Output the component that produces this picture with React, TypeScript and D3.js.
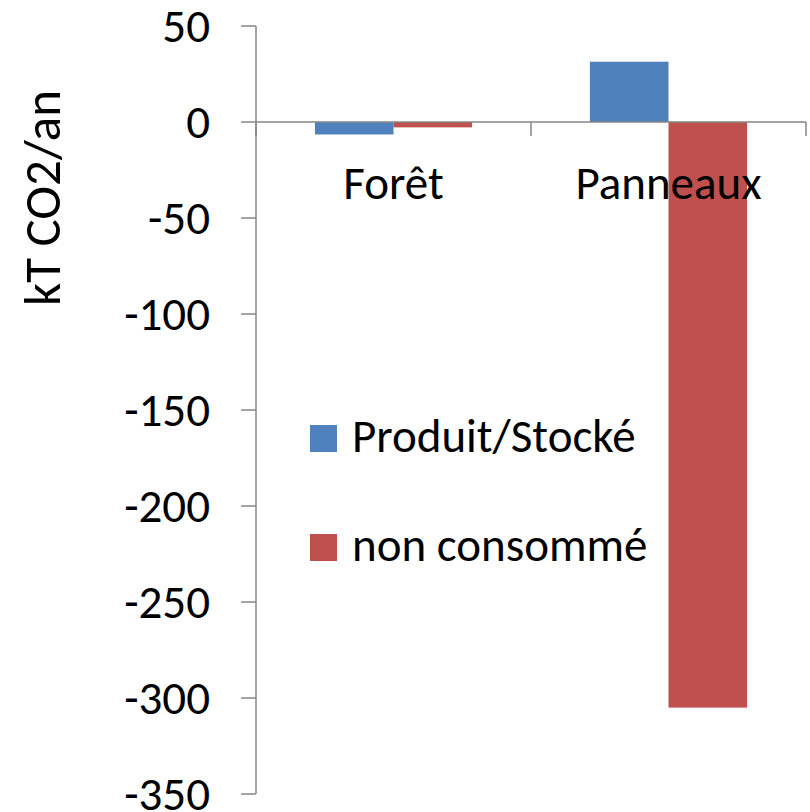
import React from "react";
import * as d3 from "d3";

const categories = ["Forêt", "Panneaux"];
const seriesNames = ["Produit/Stocké", "non consommé"];
const produitStocke = [-6.5, 31.4];
const nonConsomme = [-2.8, -305];
const yTicks = [50, 0, -50, -100, -150, -200, -250, -300, -350];
const colors = ["#4F81BD", "#C0504D"];
const yLabel = "kT CO2/an";

const FONT = "Carlito, Calibri, Lato, sans-serif";

export default function App() {
  const W = 810, H = 812;
  const left = 256, right = 806, top = 26, bottom = 794;
  const y = d3.scaleLinear().domain([-350, 50]).range([bottom, top]);
  const x0 = d3.scaleBand<string>().domain(categories).range([left, right]).padding(0);
  const x1 = d3
    .scaleBand<string>()
    .domain(seriesNames)
    .range([0, x0.bandwidth()])
    .paddingInner(0)
    .paddingOuter(0.75);
  const series = [produitStocke, nonConsomme];
  const axisColor = "#868686";
  const fs = 47;

  return (
    <div style={{ position: "absolute", left: 0, top: 0 }}>
      <svg width={W} height={H} style={{ display: "block", background: "#fff" }}>
        {/* bars */}
        {categories.map((c, ci) =>
          seriesNames.map((s, si) => {
            const v = series[si][ci];
            const y0 = y(0), yv = y(v);
            return (
              <rect
                key={c + s}
                x={(x0(c) as number) + (x1(s) as number)}
                y={Math.min(y0, yv)}
                width={x1.bandwidth()}
                height={Math.abs(yv - y0)}
                fill={colors[si]}
              />
            );
          })
        )}
        {/* y axis */}
        <line x1={left} x2={left} y1={y(50)} y2={y(-350)} stroke={axisColor} strokeWidth={1.5} />
        {yTicks.map((t) => (
          <g key={t}>
            <line x1={left - 15} x2={left} y1={y(t)} y2={y(t)} stroke={axisColor} strokeWidth={1.5} />
            <text
              x={210}
              y={y(t)}
              dy="0.33em"
              textAnchor="end"
              fontFamily={FONT}
              fontSize={fs}
              fill="#000"
            >
              {t}
            </text>
          </g>
        ))}
        {/* category axis at zero */}
        <line x1={left} x2={right} y1={y(0)} y2={y(0)} stroke={axisColor} strokeWidth={1.5} />
        {[left, ...categories.map((c) => (x0(c) as number) + x0.bandwidth())].map((xx, i) => (
          <line key={i} x1={xx} x2={xx} y1={y(0)} y2={y(0) + 14} stroke={axisColor} strokeWidth={1.5} />
        ))}
        {categories.map((c) => (
          <text
            key={c}
            x={(x0(c) as number) + x0.bandwidth() / 2}
            y={199}
            textAnchor="middle"
            fontFamily={FONT}
            fontSize={fs}
            fill="#000"
          >
            {c}
          </text>
        ))}
        {/* y label */}
        <text
          transform={`translate(${60},${198}) rotate(-90)`}
          textAnchor="middle"
          fontFamily={FONT}
          fontSize={51}
          fill="#000"
        >
          {yLabel}
        </text>
        {/* legend */}
        {seriesNames.map((s, i) => (
          <g key={s} transform={`translate(310, ${425 + i * 109})`}>
            <rect x={0} y={0} width={27} height={27} fill={colors[i]} />
            <text x={42} y={27} fontFamily={FONT} fontSize={fs} fill="#000">
              {s}
            </text>
          </g>
        ))}
      </svg>
    </div>
  );
}
